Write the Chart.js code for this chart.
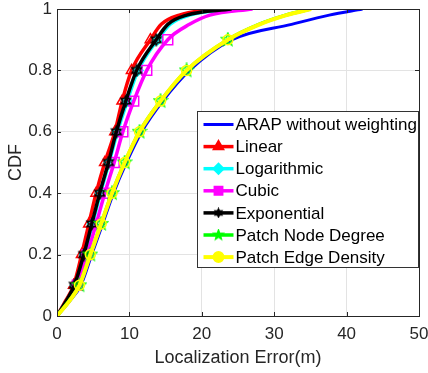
<!DOCTYPE html>
<html>
<head>
<meta charset="utf-8">
<script src="https://cdn.jsdelivr.net/npm/chart.js@4.4.1/dist/chart.umd.min.js"></script>
<style>
  html, body { margin: 0; padding: 0; background: #fff; }
  #wrap { width: 428px; height: 373px; }
</style>
</head>
<body>
<div id="wrap"><canvas id="cdfChart" width="428" height="373"></canvas></div>
<script>
// CDF levels (y) and the localization error (x, metres) for each method
var cdfLevels    = [0, 0.05, 0.1, 0.2, 0.3, 0.4, 0.5, 0.6, 0.7, 0.8, 0.9, 0.95, 0.98, 1];
var markerLevels = [0.1, 0.2, 0.3, 0.4, 0.5, 0.6, 0.7, 0.8, 0.9];

var arapErr        = [0, 1.8, 3.3, 4.8, 6.3, 7.8, 9.6, 11.7, 14.6, 18.3, 24.2, 32.4, 37.6, 42.2];
var linearErr      = [0, 1.2, 2.3, 3.4, 4.4, 5.4, 6.6, 8.0, 9.0, 10.3, 12.9, 14.4, 16.9, 21.5];
var logErr         = [0, 1.35, 2.5, 3.8, 4.9, 6.0, 7.2, 8.35, 9.7, 11.2, 13.9, 15.6, 18.3, 24.0];
var cubicErr       = [0, 1.5, 2.8, 4.15, 5.4, 6.6, 7.9, 9.1, 10.6, 12.4, 15.3, 18.3, 21.1, 27.0];
var expErr         = [0, 1.3, 2.4, 3.7, 4.8, 5.9, 7.1, 8.2, 9.5, 11.0, 13.7, 15.3, 17.9, 24.1];
var nodeDegreeErr  = [0, 1.7, 3.1, 4.6, 6.1, 7.6, 9.35, 11.4, 14.3, 17.9, 23.6, 27.9, 31.6, 35.0];
var edgeDensityErr = [0, 1.75, 3.1, 4.6, 6.1, 7.6, 9.35, 11.4, 14.3, 17.9, 23.6, 28.0, 31.7, 35.1];

var seriesNames = ['ARAP without weighting', 'Linear', 'Logarithmic', 'Cubic',
                   'Exponential', 'Patch Node Degree', 'Patch Edge Density'];

var xTicks = [0, 10, 20, 30, 40, 50];
var yTicks = [0, 0.2, 0.4, 0.6, 0.8, 1];

var FONT = "'Liberation Sans', Arial, Helvetica, sans-serif";
var TXT = '#262626';

// star shaped markers (matlab pentagram / hexagram)
function makeStar(n, size, color, lw, fill) {
    var c = document.createElement('canvas');
    c.width = size; c.height = size;
    var g = c.getContext('2d');
    var cx = size / 2, cy = size / 2, ro = size / 2 - lw, ri = ro * (n == 5 ? 0.42 : 0.55);
    g.beginPath();
    for (var i = 0; i < n * 2; i++) {
        var r = i % 2 ? ri : ro;
        var a = -Math.PI / 2 + i * Math.PI / n;
        var px = cx + r * Math.cos(a), py = cy + r * Math.sin(a);
        if (i == 0) g.moveTo(px, py); else g.lineTo(px, py);
    }
    g.closePath();
    if (fill) { g.fillStyle = color; g.fill(); }
    g.strokeStyle = color; g.lineWidth = lw; g.stroke();
    return c;
}
var blackStar = makeStar(6, 14, '#000', 1.5, false);
var greenStar = makeStar(5, 16, '#00ff00', 1.5, false);
var blackStarL = makeStar(6, 11, '#000', 1.2, true);
var greenStarL = makeStar(5, 13, '#00ff00', 1.2, true);

function toPoints(errs) {
    return errs.map(function (e, i) { return { x: e, y: cdfLevels[i] }; });
}
function markerRadius(r) {
    return function (c) {
        return markerLevels.indexOf(cdfLevels[c.dataIndex]) >= 0 ? r : 0;
    };
}

function makeSet(idx, errs, color, lw, style, r, legendStyle) {
    return {
        label: seriesNames[idx],
        data: toPoints(errs),
        borderColor: color,
        backgroundColor: 'rgba(0,0,0,0)',
        borderWidth: lw,
        pointStyle: style || false,
        pointRadius: style ? markerRadius(r) : 0,
        pointHoverRadius: style ? markerRadius(r) : 0,
        pointBorderColor: color,
        pointBackgroundColor: 'rgba(0,0,0,0)',
        pointBorderWidth: 1.5,
        cubicInterpolationMode: 'monotone',
        fill: false,
        order: 6 - idx,
        legendStyle: legendStyle
    };
}

var datasets = [
    makeSet(0, arapErr, '#0000ff', 3, null, 0, null),
    makeSet(1, linearErr, '#ff0000', 3.5, 'triangle', 6, 'triangle'),
    makeSet(2, logErr, '#00ffff', 3.5, 'rectRot', 5, 'rectRot'),
    makeSet(3, cubicErr, '#ff00ff', 3.5, 'rect', 7, 'rect'),
    makeSet(4, expErr, '#000000', 3.5, blackStar, 7, blackStarL),
    makeSet(5, nodeDegreeErr, '#00ff00', 3.5, greenStar, 8, greenStarL),
    makeSet(6, edgeDensityErr, '#ffff00', 4, 'circle', 5, 'circle')
];

// box around axes + inward tick marks like matlab
var axesBox = {
    id: 'axesBox',
    afterDatasetsDraw: function (chart) {
        var ctx = chart.ctx, a = chart.chartArea;
        var sx = chart.scales.x, sy = chart.scales.y;
        ctx.save();
        ctx.strokeStyle = TXT;
        ctx.lineWidth = 1;
        ctx.beginPath();
        xTicks.forEach(function (t) {
            var px = Math.round(sx.getPixelForValue(t)) + 0.5;
            ctx.moveTo(px, a.bottom); ctx.lineTo(px, a.bottom - 4);
            ctx.moveTo(px, a.top); ctx.lineTo(px, a.top + 4);
        });
        yTicks.forEach(function (t) {
            var py = Math.round(sy.getPixelForValue(t)) + 0.5;
            ctx.moveTo(a.left, py); ctx.lineTo(a.left + 4, py);
            ctx.moveTo(a.right, py); ctx.lineTo(a.right - 4, py);
        });
        ctx.stroke();
        ctx.strokeRect(Math.round(a.left) + 0.5, Math.round(a.top) + 0.5,
                       Math.round(a.right - a.left), Math.round(a.bottom - a.top));
        ctx.restore();
    }
};

// legend drawn inside the axes, lower right
var insideLegend = {
    id: 'insideLegend',
    afterDraw: function (chart) {
        var ctx = chart.ctx, a = chart.chartArea;
        var w = 221, h = 156;
        var bx = Math.round(a.right - w - 1) + 0.5, by = Math.round(a.top + 102) + 0.5;
        ctx.save();
        ctx.fillStyle = '#fff';
        ctx.fillRect(bx, by, w, h);
        ctx.strokeStyle = '#333';
        ctx.lineWidth = 1;
        ctx.strokeRect(bx, by, w, h);
        ctx.font = '17px ' + FONT;
        ctx.textBaseline = 'middle';
        chart.data.datasets.forEach(function (ds, i) {
            var y = by + 13 + i * 22.1;
            ctx.strokeStyle = ds.borderColor;
            ctx.lineWidth = ds.borderWidth;
            ctx.beginPath();
            ctx.moveTo(bx + 6, y); ctx.lineTo(bx + 36, y);
            ctx.stroke();
            var st = ds.legendStyle;
            if (st) {
                var cx = bx + 21;
                if (typeof st === 'string') {
                    Chart.helpers.drawPoint(ctx, {
                        pointStyle: st, radius: st == 'rect' ? 4.5 : 4, borderWidth: 1, rotation: 0
                    }, cx, y);
                    ctx.fillStyle = ds.borderColor;
                    ctx.fill();
                } else {
                    ctx.drawImage(st, cx - st.width / 2, y - st.height / 2);
                }
            }
            ctx.fillStyle = '#000';
            ctx.fillText(ds.label, bx + 38, y + 1);
        });
        ctx.restore();
    }
};

var ctx = document.getElementById('cdfChart').getContext('2d');
var chart = new Chart(ctx, {
    type: 'line',
    data: { datasets: datasets },
    options: {
        responsive: false,
        animation: false,
        devicePixelRatio: 1,
        layout: { padding: 0 },
        plugins: { legend: { display: false }, tooltip: { enabled: false } },
        scales: {
            x: {
                type: 'linear', min: 0, max: 50,
                afterBuildTicks: function (s) { s.ticks = xTicks.map(function (v) { return { value: v }; }); },
                afterFit: function (s) { s.height = 57; s.paddingLeft = 0; s.paddingRight = 9; },
                grid: { color: '#e3e3e3', drawTicks: false },
                border: { display: false },
                ticks: { padding: 10, color: TXT, font: { family: FONT, size: 17, lineHeight: 1 } },
                title: { display: true, text: 'Localization Error(m)', color: TXT,
                         font: { family: FONT, size: 18 }, padding: { top: 4, bottom: 4 } }
            },
            y: {
                type: 'linear', min: 0, max: 1,
                afterBuildTicks: function (s) { s.ticks = yTicks.map(function (v) { return { value: v }; }); },
                afterFit: function (s) { s.width = 57; s.paddingTop = 9; s.paddingBottom = 0; },
                grid: { color: '#e3e3e3', drawTicks: false },
                border: { display: false },
                ticks: { padding: 5, color: TXT, font: { family: FONT, size: 17, lineHeight: 1 },
                         callback: function (v) { return String(Math.round(v * 10) / 10); } },
                title: { display: true, text: 'CDF', color: TXT,
                         font: { family: FONT, size: 18 }, padding: { top: 5, bottom: 0 } }
            }
        }
    },
    plugins: [axesBox, insideLegend]
});
</script>
</body>
</html>
